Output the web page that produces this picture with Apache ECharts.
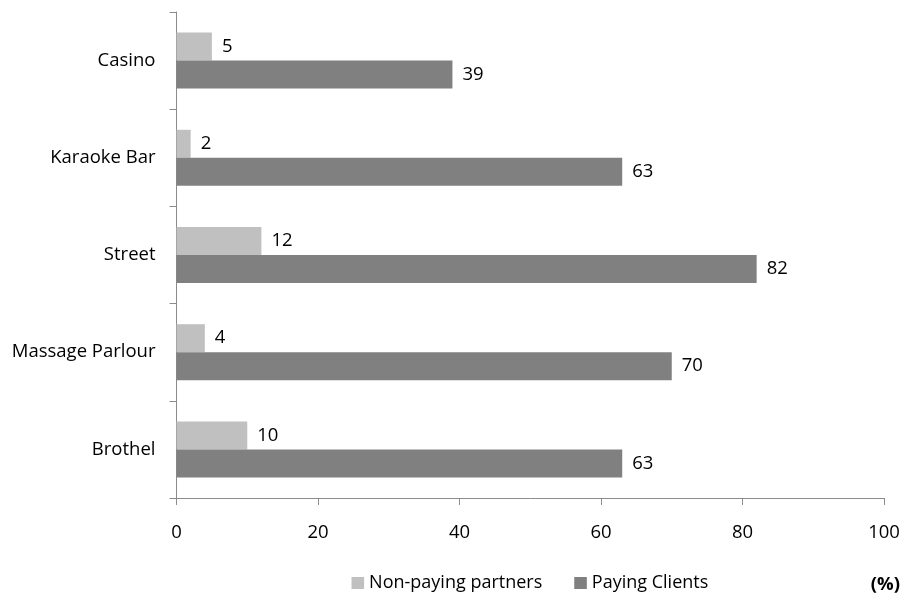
<!DOCTYPE html>
<html>
<head>
<meta charset="utf-8">
<script src="https://cdn.jsdelivr.net/npm/echarts@6/dist/echarts.min.js"></script>
<style>
  html, body { margin: 0; padding: 0; background: #fff; }
  #chart { width: 904px; height: 594px; }
</style>
</head>
<body>
<div id="chart"></div>
<script>
// Venue categories, listed bottom to top
const venues = ['Brothel', 'Massage Parlour', 'Street', 'Karaoke Bar', 'Casino'];
// Percentages per venue
const nonPayingPartners = [10, 4, 12, 2, 5];
const payingClients = [63, 70, 82, 63, 39];
const xTicks = [0, 20, 40, 60, 80, 100];

const FONT = '"Open Sans", "Liberation Sans", sans-serif';
const FONT_SIZE = 18.5;
const AXIS_COLOR = '#8c8c8c';

const chart = echarts.init(document.getElementById('chart'), null, { renderer: 'canvas' });

const labelStyle = {
  show: true,
  position: 'right',
  distance: 10,
  color: '#000',
  fontFamily: FONT,
  fontSize: FONT_SIZE
};

chart.setOption({
  animation: false,
  backgroundColor: '#fff',
  textStyle: { fontFamily: FONT },
  grid: { left: 176.5, right: 20, top: 12, bottom: 96, containLabel: false },
  legend: {
    left: 346.5,
    top: 569,
    itemWidth: 12.6,
    itemHeight: 12,
    itemGap: 32,
    icon: 'rect',
    textStyle: { fontFamily: FONT, fontSize: 18, color: '#000' },
    data: ['Non-paying partners', 'Paying Clients']
  },
  graphic: [{
    type: 'text',
    right: 4,
    top: 575,
    style: { text: '(%)', font: 'bold ' + FONT_SIZE + 'px ' + FONT, fill: '#000' }
  }],
  xAxis: {
    type: 'value',
    min: xTicks[0],
    max: xTicks[xTicks.length - 1],
    interval: 20,
    axisLine: { show: true, lineStyle: { color: AXIS_COLOR } },
    axisTick: { show: true, length: 7, lineStyle: { color: AXIS_COLOR } },
    splitLine: { show: false },
    axisLabel: { margin: 25, color: '#000', fontFamily: FONT, fontSize: FONT_SIZE }
  },
  yAxis: {
    type: 'category',
    data: venues,
    axisLine: { show: true, lineStyle: { color: AXIS_COLOR } },
    axisTick: { show: true, length: 7, lineStyle: { color: AXIS_COLOR } },
    axisLabel: { margin: 21, color: '#000', fontFamily: FONT, fontSize: FONT_SIZE }
  },
  series: [
    {
      name: 'Non-paying partners',
      type: 'bar',
      data: nonPayingPartners,
      barWidth: 28,
      barGap: '0%',
      barCategoryGap: '43%',
      itemStyle: { color: '#c0c0c0' },
      label: labelStyle
    },
    {
      name: 'Paying Clients',
      type: 'bar',
      data: payingClients,
      barWidth: 28,
      barGap: '0%',
      itemStyle: { color: '#808080' },
      label: labelStyle
    }
  ]
});
</script>
</body>
</html>
